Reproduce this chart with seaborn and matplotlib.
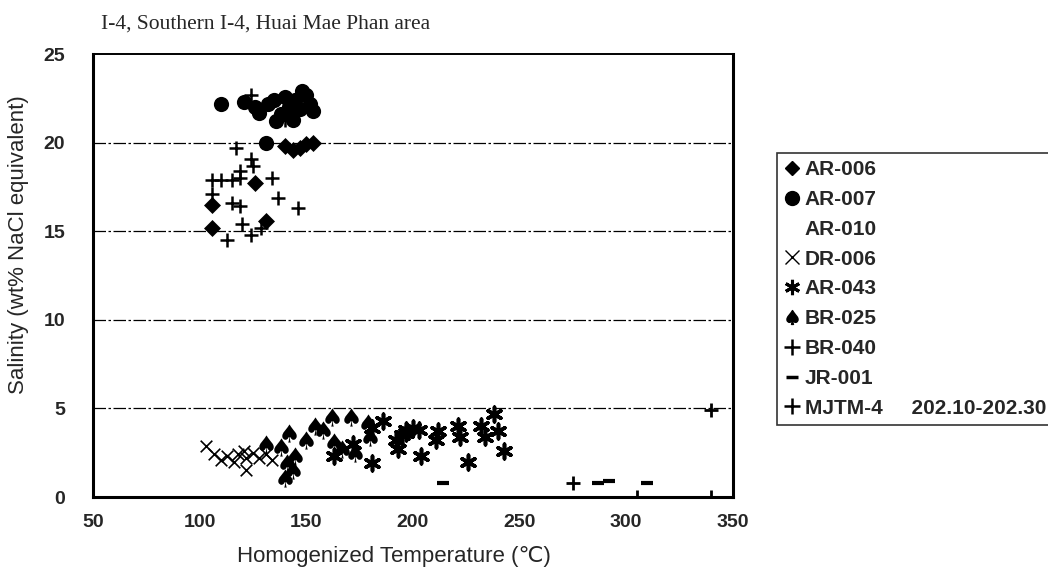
import matplotlib
matplotlib.use("Agg")
import matplotlib.pyplot as plt
from matplotlib.lines import Line2D
import seaborn as sns
import pandas as pd

# ---------------- data ----------------
ar006_t = [140, 144, 147, 150, 153, 126, 106, 106, 131]
ar006_s = [19.8, 19.6, 19.7, 19.9, 20.0, 17.7, 16.5, 15.2, 15.6]

ar007_t = [110, 121, 126, 128, 132, 135, 138, 140, 142, 145, 147, 150, 152, 144, 136, 148, 153, 131]
ar007_s = [22.2, 22.3, 22.0, 21.7, 22.2, 22.4, 21.6, 22.6, 22.0, 22.4, 21.9, 22.7, 22.2, 21.3, 21.2, 22.9, 21.8, 20.0]

dr006_t = [103, 107, 110, 113, 116, 118, 121, 122, 122, 125, 128, 131, 134]
dr006_s = [2.9, 2.4, 2.1, 2.3, 2.0, 2.4, 2.6, 1.5, 2.2, 2.5, 2.2, 2.4, 2.1]

ar043_t = [163, 172, 181, 181, 192, 193, 197, 197, 203, 204, 200, 211, 212, 221, 222, 226, 232, 234, 238, 240, 243, 186, 195]
ar043_s = [2.3, 3.0, 1.9, 3.9, 3.2, 2.7, 3.8, 3.6, 3.8, 2.3, 3.9, 3.2, 3.7, 4.0, 3.4, 2.0, 4.0, 3.4, 4.7, 3.7, 2.6, 4.3, 3.5]

br025_t = [131, 138, 142, 141, 140, 144, 150, 154, 162, 163, 167, 171, 173, 179, 180, 145, 158]
br025_s = [3.0, 2.8, 3.6, 1.9, 1.1, 1.5, 3.2, 4.0, 4.5, 3.1, 2.7, 4.5, 2.5, 4.2, 3.4, 2.3, 3.8]

br040_t = [117, 124, 125, 119, 106, 110, 115, 119, 134, 106, 137, 115, 119, 146, 120, 124, 129, 113, 124, 140]
br040_s = [19.7, 19.1, 18.7, 18.4, 17.9, 17.9, 17.9, 18.0, 18.0, 17.1, 16.9, 16.6, 16.4, 16.3, 15.4, 14.8, 15.2, 14.5, 22.7, 21.3]

jr001_t = [214, 287, 292, 310]
jr001_s = [0.8, 0.8, 0.9, 0.8]

mjtm4_t = [275, 305, 340, 340]
mjtm4_s = [0.8, 0.0, 0.0, 4.9]

legend_labels = ["AR-006", "AR-007", "AR-010", "DR-006", "AR-043", "BR-025",
                 "BR-040", "JR-001", "MJTM-4     202.10-202.30"]
x_ticks = [50, 100, 150, 200, 250, 300, 350]
y_ticks = [0, 5, 10, 15, 20, 25]

# ---------------- style ----------------
sns.set_theme(style="white")
plt.rcParams["font.family"] = ["Liberation Sans", "DejaVu Sans"]

fig = plt.figure(figsize=(10.48, 5.83), dpi=100)
ax = fig.add_axes([0.0887, 0.1475, 0.6103, 0.7598])

spade = r"$\spadesuit$"
series = [
    (ar006_t, ar006_s, "D", 75, dict(color="black", linewidths=0)),
    (ar007_t, ar007_s, "o", 120, dict(color="black", linewidths=0)),
    (dr006_t, dr006_s, "x", 70, dict(color="black", linewidths=1.2)),
    (ar043_t, ar043_s, (6, 2, 0), 110, dict(color="black", linewidths=2.6)),
    (br025_t, br025_s, spade, 170, dict(color="black", linewidths=0)),
    (br040_t, br040_s, "+", 90, dict(color="black", linewidths=1.8)),
    (jr001_t, jr001_s, "_", 80, dict(color="black", linewidths=3.0)),
    (mjtm4_t, mjtm4_s, "+", 110, dict(color="black", linewidths=2.0)),
]
for t, s, m, sz, kw in series:
    df = pd.DataFrame({"t": t, "s": s})
    sns.scatterplot(data=df, x="t", y="s", marker=m, s=sz, ax=ax, zorder=3, **kw)

ax.set_xlim(50, 350)
ax.set_ylim(0, 25)
ax.set_xticks(x_ticks)
ax.set_yticks(y_ticks)
ax.set_xticklabels([str(v) for v in x_ticks], fontsize=14, fontweight="bold")
ax.set_yticklabels([str(v) for v in y_ticks], fontsize=14, fontweight="bold")
ax.tick_params(axis="x", direction="in", length=4, width=1.2, color="black", pad=12)
ax.tick_params(axis="y", length=0, pad=20)

for yv in [5, 10, 15, 20]:
    ax.axhline(yv, color="black", lw=0.9, dashes=(10, 2, 2, 2), zorder=1)

for side in ["left", "bottom", "right"]:
    ax.spines[side].set_linewidth(2.2)
    ax.spines[side].set_color("black")
ax.spines["top"].set_linewidth(1.4)
ax.spines["top"].set_color("black")

ax.set_xlabel("Homogenized Temperature (\u2103)", fontsize=16)
ax.set_ylabel("Salinity (wt% NaCl equivalent)", fontsize=16)
ax.xaxis.set_label_coords(0.47, -0.11)
ax.yaxis.set_label_coords(-0.1, 0.57)

fig.text(0.096, 0.958, "I-4, Southern I-4, Huai Mae Phan area",
         fontsize=15.5, family="Liberation Serif", ha="left", va="center")

# ---------------- legend ----------------
handles = [
    Line2D([], [], ls="none", marker="D", ms=7, color="black"),
    Line2D([], [], ls="none", marker="o", ms=10, color="black"),
    Line2D([], [], ls="none", marker="None", color="white"),
    Line2D([], [], ls="none", marker="x", ms=10, mew=1.0, color="black"),
    Line2D([], [], ls="none", marker=(6, 2, 0), ms=11, mew=2.2, color="black"),
    Line2D([], [], ls="none", marker=spade, ms=10, color="black"),
    Line2D([], [], ls="none", marker="+", ms=12, mew=1.8, color="black"),
    Line2D([], [], ls="none", marker="_", ms=9, mew=2.5, color="black"),
    Line2D([], [], ls="none", marker="+", ms=12, mew=1.8, color="black"),
]
leg = fig.legend(handles, legend_labels, loc="upper left",
                 bbox_to_anchor=(0.741, 0.738), frameon=True, fancybox=False,
                 edgecolor="black", prop={"size": 15, "weight": "bold"},
                 handlelength=0.8, handletextpad=0.2, labelspacing=0.52,
                 borderpad=0.35, borderaxespad=0)
leg.get_frame().set_linewidth(1.2)

fig.savefig("out.png", dpi=100, facecolor="white")
